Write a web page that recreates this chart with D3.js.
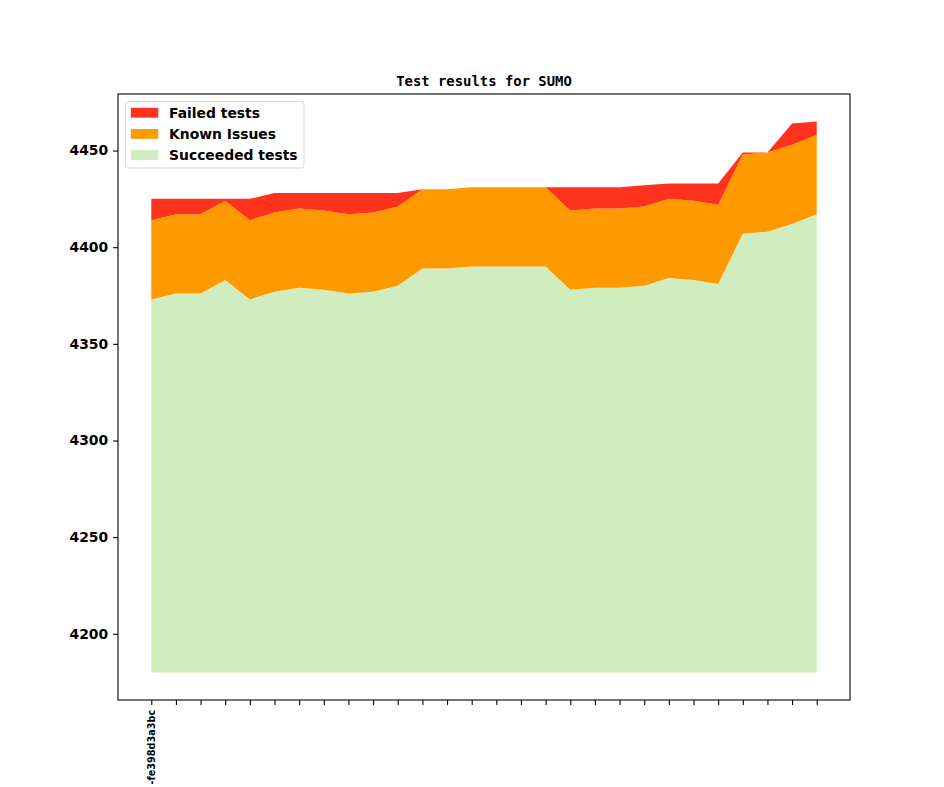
<!DOCTYPE html>
<html>
<head>
<meta charset="UTF-8">
<title>Test results for SUMO</title>
<style>
body {
    margin: 0;
    background: #fff;
}

.axis path,
.axis line {
    fill: none;
    stroke: #000;
    stroke-width: 1.1px;
}

.axis text {
    font-family: "DejaVu Sans", sans-serif;
    font-weight: bold;
    font-size: 13.9px;
    fill: #000;
}

.xAxis text {
    font-size: 9.7px;
}

.chart-title {
    font-family: "DejaVu Sans Mono", monospace;
    font-weight: bold;
    font-size: 13.9px;
}

.legend text {
    font-family: "DejaVu Sans", sans-serif;
    font-weight: bold;
    font-size: 13.9px;
}
</style>
</head>
<body>
<div class="chart"></div>
<script src="https://cdn.jsdelivr.net/npm/d3@7"></script>
<script>

// one entry per build, only the first one is labelled
const builds = d3.range(28);
const buildLabels = ['-fe398d3a3bc'].concat(d3.range(27).map(() => ''));

// absolute level of the succeeded tests
const succeeded = [4373, 4376, 4376, 4383, 4373, 4377, 4379, 4378, 4376, 4377, 4380, 4389, 4389, 4390,
    4390, 4390, 4390, 4378, 4379, 4379, 4380, 4384, 4383, 4381, 4407, 4408, 4412, 4417];
// counts stacked on top
const knownIssues = [41, 41, 41, 41, 41, 41, 41, 41, 41, 41, 41, 41, 41, 41,
    41, 41, 41, 41, 41, 41, 41, 41, 41, 41, 41, 41, 41, 41];
const failed = [11, 8, 8, 1, 11, 10, 8, 9, 11, 10, 7, 0, 0, 0,
    0, 0, 0, 12, 11, 11, 11, 8, 9, 11, 1, 0, 11, 7];

const fillBase = 4180;
const yTicks = [4200, 4250, 4300, 4350, 4400, 4450];

const seriesNames = ['Failed tests', 'Known Issues', 'Succeeded tests'];
const seriesColors = ['#ff331d', '#ff9900', '#cfedbe'];

let width = 944, height = 787,
    plotLeft = 118, plotRight = 850, plotTop = 94, plotBottom = 700;

let svg = d3.select('.chart').append('svg')
    .attr('width', width)
    .attr('height', height);

// stacked levels
let rows = builds.map(i => {
    let s = succeeded[i], k = s + knownIssues[i], f = k + failed[i];
    return {i: i, base: fillBase, s: s, k: k, f: f};
});

let yMin = fillBase, yMax = d3.max(rows, d => d.f);
let yPad = (yMax - yMin) * 0.05;
let xPad = (builds.length - 1) * 0.05;

let xScale = d3.scaleLinear()
    .domain([-xPad, builds.length - 1 + xPad])
    .range([plotLeft, plotRight]);

let yScale = d3.scaleLinear()
    .domain([yMin - yPad, yMax + yPad])
    .range([plotBottom, plotTop]);

let band = (lo, hi) => d3.area()
    .x(d => xScale(d.i))
    .y0(d => yScale(d[lo]))
    .y1(d => yScale(d[hi]));

let g = svg.append('g');

g.append('path')
    .attr('d', band('base', 's')(rows))
    .style('fill', seriesColors[2]);

g.append('path')
    .attr('d', band('s', 'k')(rows))
    .style('fill', seriesColors[1]);

g.append('path')
    .attr('d', band('k', 'f')(rows))
    .style('fill', seriesColors[0]);

// frame
svg.append('rect')
    .attr('x', plotLeft)
    .attr('y', plotTop)
    .attr('width', plotRight - plotLeft)
    .attr('height', plotBottom - plotTop)
    .attr('fill', 'none')
    .attr('stroke', '#000')
    .attr('stroke-width', 1.1);

let xAxis = d3.axisBottom(xScale)
    .tickValues(builds)
    .tickSize(4.9)
    .tickPadding(4.9)
    .tickFormat(i => buildLabels[i]);

let xg = svg.append('g')
    .attr('class', 'axis xAxis')
    .attr('transform', 'translate(0,' + plotBottom + ')')
    .call(xAxis);
xg.select('.domain').remove();
xg.selectAll('.tick text')
    .attr('transform', 'rotate(-90)')
    .attr('x', -9.8)
    .attr('y', 0)
    .attr('dy', '0.35em')
    .style('text-anchor', 'end');

let yAxis = d3.axisLeft(yScale)
    .tickValues(yTicks)
    .tickSize(4.9)
    .tickPadding(4.9)
    .tickFormat(d3.format('d'));

let yg = svg.append('g')
    .attr('class', 'axis')
    .attr('transform', 'translate(' + plotLeft + ',0)')
    .call(yAxis);
yg.select('.domain').remove();

svg.append('text')
    .attr('class', 'chart-title')
    .attr('x', (plotLeft + plotRight) / 2)
    .attr('y', 86)
    .attr('text-anchor', 'middle')
    .text('Test results for SUMO');

// legend, upper left
let legend = svg.append('g')
    .attr('class', 'legend')
    .attr('transform', 'translate(125.5,101.5)');

legend.append('rect')
    .attr('width', 178.5)
    .attr('height', 66.5)
    .attr('rx', 2.8)
    .attr('fill', '#fff')
    .attr('fill-opacity', 0.8)
    .attr('stroke', '#d6d6d6')
    .attr('stroke-width', 1);

seriesNames.forEach((name, i) => {
    let row = legend.append('g')
        .attr('transform', 'translate(0,' + (11.2 + i * 21.2) + ')');
    row.append('rect')
        .attr('x', 5.3)
        .attr('y', -4.9)
        .attr('width', 27.5)
        .attr('height', 9.8)
        .attr('fill', seriesColors[i]);
    row.append('text')
        .attr('x', 43.5)
        .attr('dy', '0.36em')
        .text(name);
});

</script>
</body>
</html>
